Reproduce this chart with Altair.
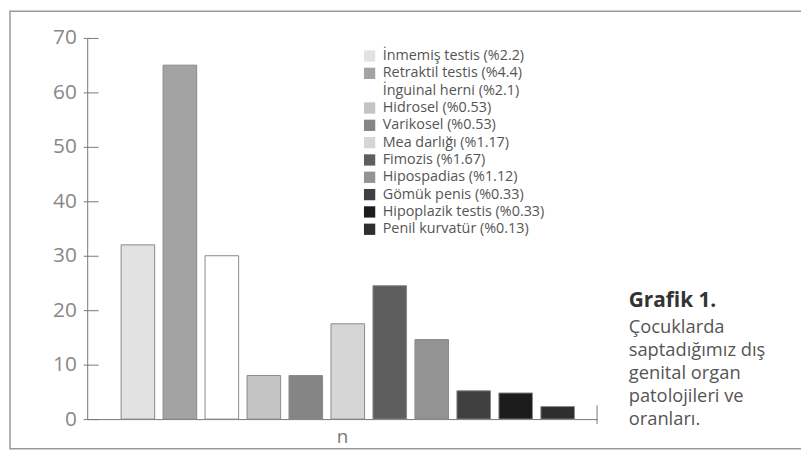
import altair as alt
import pandas as pd

FONT = "Open Sans"

categories = [
    "İnmemiş testis (%2.2)",
    "Retraktil testis (%4.4)",
    "İnguinal herni (%2.1)",
    "Hidrosel (%0.53)",
    "Varikosel (%0.53)",
    "Mea darlığı (%1.17)",
    "Fimozis (%1.67)",
    "Hipospadias (%1.12)",
    "Gömük penis (%0.33)",
    "Hipoplazik testis (%0.33)",
    "Penil kurvatür (%0.13)",
]
values = [32, 65, 30, 8, 8, 17.5, 24.5, 14.6, 5.2, 4.8, 2.3]
colors = ["#e2e2e2", "#a3a3a3", "#ffffff", "#c4c4c4", "#858585", "#d6d6d6",
          "#5e5e5e", "#939393", "#404040", "#1c1c1c", "#2e2e2e"]
group_label = "n"
y_ticks = [0, 10, 20, 30, 40, 50, 60, 70]
caption_title = "Grafik 1."
caption_lines = ["Çocuklarda", "saptadığımız dış", "genital organ", "patolojileri ve", "oranları."]

W, H = 515, 385
df = pd.DataFrame({"cat": categories, "n": values})
one = alt.Data(values=[{"k": 1}])

xscale = alt.Scale(paddingInner=0.2, paddingOuter=0.673, align=0.6)
yscale = alt.Scale(domain=[0, 70], nice=False)

bars = alt.Chart(df).mark_bar(stroke="#8a8a8a", strokeWidth=1).encode(
    x=alt.X("cat:N", sort=categories, scale=xscale,
            axis=alt.Axis(labels=False, ticks=False, title=group_label,
                          domainColor="#777", domainWidth=1,
                          titleFont=FONT, titleFontSize=19, titleFontWeight="normal",
                          titleColor="#777", titlePadding=9)),
    y=alt.Y("n:Q", scale=yscale,
            axis=alt.Axis(values=y_ticks, tickSize=4, labelPadding=7,
                          labelFont=FONT, labelFontSize=21, labelColor="#888",
                          tickColor="#777", domainColor="#777", grid=False, title=None)),
    color=alt.Color("cat:N", sort=categories,
                    scale=alt.Scale(domain=categories, range=colors),
                    legend=alt.Legend(orient="none", legendX=278, legendY=11, title=None,
                                      symbolType="square", symbolSize=130,
                                      symbolStrokeWidth=0, labelFont=FONT,
                                      labelFontSize=14.5, labelColor="#555",
                                      labelOffset=6, rowPadding=2.5, padding=0,
                                      labelLimit=300)),
)

ticks2 = alt.Chart(df).mark_point(opacity=0).encode(
    y=alt.Y("n:Q", scale=yscale,
            axis=alt.Axis(orient="left", offset=-11, tickSize=11, labels=False,
                          domain=False, grid=False, title=None, values=y_ticks,
                          tickColor="#777")),
)

endtick = alt.Chart(one).mark_rule(color="#777", strokeWidth=1).encode(
    x=alt.value(W), y=alt.value(371), y2=alt.value(390)
)

border = alt.Chart(one).mark_rect(filled=False, stroke="#999", strokeWidth=1.5).encode(
    x=alt.value(-78), x2=alt.value(730), y=alt.value(-27), y2=alt.value(415)
)

cap_head = alt.Chart(alt.Data(values=[{"t": caption_title}])).mark_text(
    align="left", baseline="alphabetic", font=FONT, fontSize=21,
    fontWeight="bold", color="#333"
).encode(text="t:N", x=alt.value(547), y=alt.value(272))

cap_body = alt.Chart(alt.Data(values=[{"t": "\n".join(caption_lines)}])).mark_text(
    align="left", baseline="alphabetic", font=FONT, fontSize=18.5,
    color="#555", lineBreak="\n", lineHeight=23.3
).encode(text="t:N", x=alt.value(547), y=alt.value(298))

chart = alt.layer(border, bars, ticks2, endtick, cap_head, cap_body).resolve_scale(
    y="shared"
).resolve_axis(y="independent").properties(
    width=W, height=H,
    autosize=alt.AutoSizeParams(type="none"),
    padding={"left": 80, "top": 28, "right": 206, "bottom": 32},
).configure_view(strokeWidth=0)

chart.save("out.html", embed_options={"renderer": "svg", "actions": False})
